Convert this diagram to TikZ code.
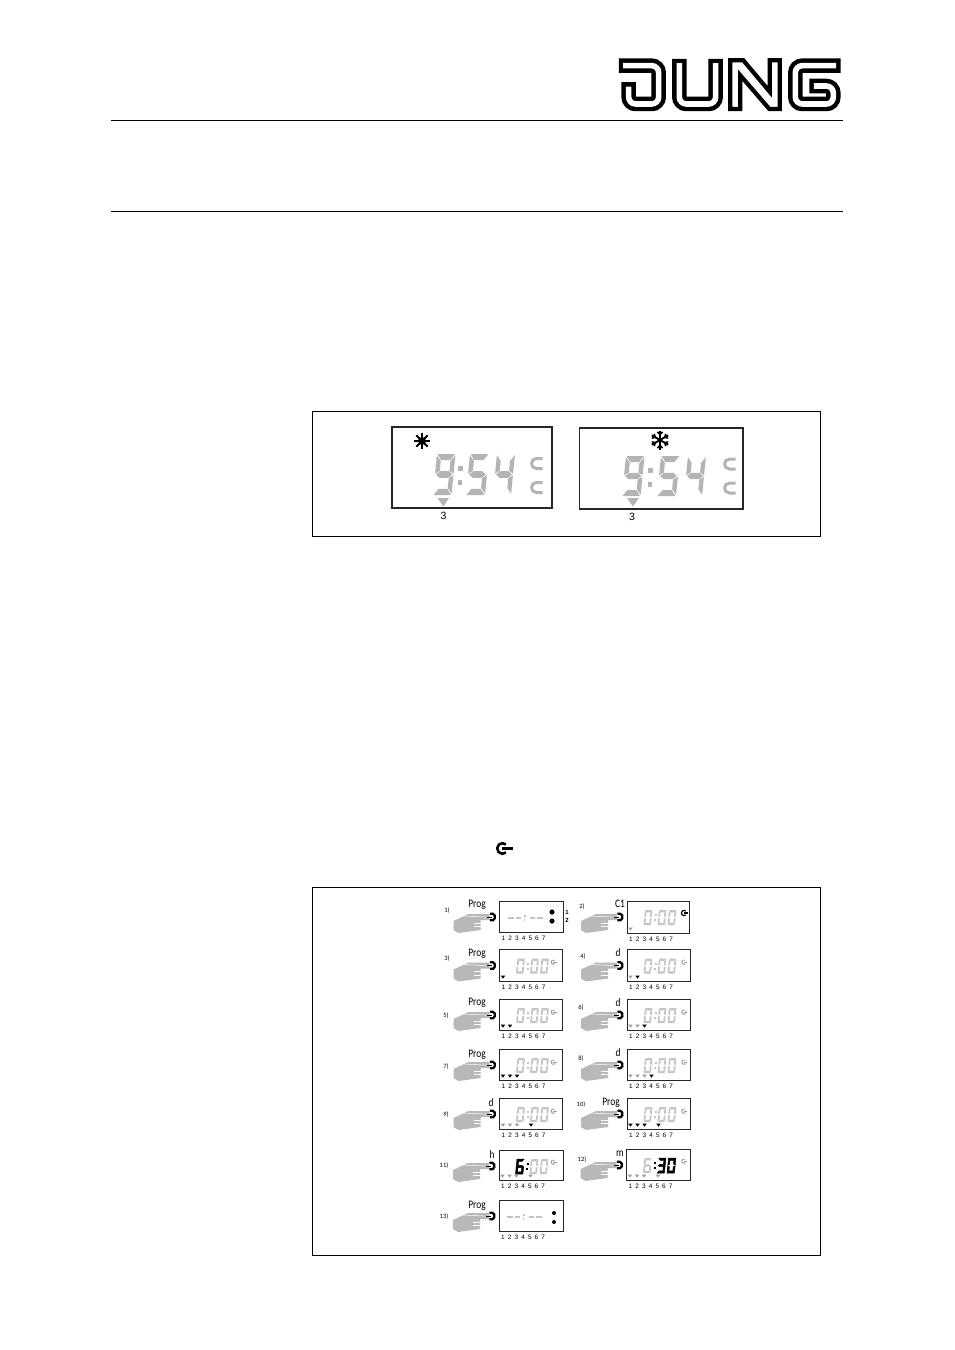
\documentclass[tikz,border=0pt]{standalone}
\usepackage{fontspec}
\usepackage{graphicx}
\setmainfont{Liberation Sans}
\newfontfamily\condf{Carlito}
\definecolor{lcdbigc}{HTML}{B4B4B4}
\definecolor{lcdsmc}{HTML}{C4C4C4}
\definecolor{handc}{HTML}{B8B8B8}
\newcommand\nar[1]{\scalebox{.82}[1]{#1}}
\tikzset{
  rule/.style={draw=black,line width=.9pt},
  frameb/.style={draw=black,line width=.8pt},
  lcdbox/.style={draw=black!85,line width=.9pt},
  lcdbig/.style={fill=lcdbigc},
  lcdlight/.style={fill=lcdsmc},
  lcdbold/.style={fill=black,draw=black,line width=.5pt},
  steplab/.style={font=\condf\fontsize{11.5}{11.5}\selectfont,inner sep=0pt},
  numlab/.style={font=\condf\fontsize{6.5}{7}\selectfont,inner sep=0pt},
  daylab/.style={font=\fontsize{6.4}{7}\selectfont,inner sep=0pt},
  bigtxt/.style={font=\fontsize{10.5}{11}\selectfont,inner sep=0pt},
  logo/.style={line cap=rect,miter limit=10,rounded corners=7pt}
}
% seven segment pieces in the unit cell
\newcommand\dsa{\path[segc] (.03,0)--(.97,0)--(.74,.15)--(.26,.15)--cycle;}
\newcommand\dsd{\path[segc] (.03,1)--(.97,1)--(.74,.85)--(.26,.85)--cycle;}
\newcommand\dsg{\path[segc] (.06,.5)--(.26,.42)--(.74,.42)--(.94,.5)--(.74,.58)--(.26,.58)--cycle;}
\newcommand\dsf{\path[segc] (0,.03)--(.24,.17)--(.24,.41)--(0,.48)--cycle;}
\newcommand\dsb{\path[segc] (1,.03)--(.76,.17)--(.76,.41)--(1,.48)--cycle;}
\newcommand\dse{\path[segc] (0,.52)--(.24,.59)--(.24,.83)--(0,.97)--cycle;}
\newcommand\dsc{\path[segc] (1,.52)--(.76,.59)--(.76,.83)--(1,.97)--cycle;}
% x, y, w, h, skew, style, segments
\newcommand\ldigit[7]{\begin{scope}[shift={(#1,#2)},x={(#3pt,0pt)},y={(-#5pt,-#4pt)},segc/.style={#6}]
  \foreach \q in #7 {\csname ds\q\endcsname}
\end{scope}}
\def\dzero{a,b,c,d,e,f}
\def\dthree{a,b,c,d,g}
\def\dfour{b,c,f,g}
\def\dfive{a,c,d,f,g}
\def\dsix{a,c,d,e,f,g}
\def\dnine{a,b,c,d,f,g}
\newcommand\sdig[4]{\ldigit{#1}{#2}{7.4}{15}{1.5}{#3}{#4}}
\newcommand\scol[3]{\fill[#3] (#1+.3,#2+4) rectangle +(2,2); \fill[#3] (#1-.4,#2+9) rectangle +(2,2);}
% box x, top, d1 style, d1 segs, colon style, d2 d3 style, d2 segs, d3 segs
\newcommand\stime[8]{
  \sdig{#1+18}{#2+9}{#3}{#4}
  \scol{#1+27.5}{#2+9}{#5}
  \sdig{#1+32}{#2+9}{#6}{#7}
  \sdig{#1+42}{#2+9}{#6}{#8}}
\newcommand\gsym[6]{% x,y,r,lw,colour,bar
  \draw[#5,line width=#4pt] ([shift={(50:#3)}]#1,#2) arc (50:310:#3);
  \draw[#5,line width=#4pt] (#1-.1*#3,#2) -- (#1+#6,#2);}
\newcommand\bigc[2]{\draw[lcdbigc,line width=3pt] (#1+6,#2-5) -- (#1,#2-5) arc (270:90:5) -- (#1+6,#2+5);}
\newcommand\dayrow[3]{\foreach \d in {1,...,7}{\pgfmathsetmacro\dpx{#1+4+(\d-1)*6.7}\node[daylab] (day#3\d) at (\dpx,#2+6) {\d};}}
\newcommand\tridn[3]{\fill[#3] (#1-2.3,#2-1.5) -- (#1+2.3,#2-1.5) -- (#1,#2+1.7) -- cycle;}
% box x, bottom, black list, grey list
\newcommand\tris[4]{
  \foreach \d in {#3}{\pgfmathsetmacro\tpx{#1+3.5+(\d-1)*7}\tridn{\tpx}{#2-4}{black}}
  \foreach \d in {#4}{\pgfmathsetmacro\tpx{#1+3.5+(\d-1)*7}\tridn{\tpx}{#2-4}{black!38}}}
\newcommand\handk[2]{
  \fill[handc] (#1-38,#2+4)--(#1-23,#2-3)--(#1-2,#2-3)--(#1-2,#2+3)--(#1-11,#2+3)--(#1-11,#2+13)--(#1-33,#2+16)--(#1-38,#2+13)--cycle;
  \draw[white,line width=.8pt] (#1-18,#2+6)--(#1-10,#2+6) (#1-18,#2+9.5)--(#1-10,#2+9.5);
  \draw[white,line width=.5pt] (#1-28,#2-1)--(#1-3,#2+.2);
  \draw[black,line width=2.2pt] ([shift={(-115:3.6)}]#1,#2) arc (-115:115:3.6);
  \draw[black,line width=.8pt] (#1-5,#2)--(#1,#2);}
% id, box x, top, bottom, width
\newcommand\panelbox[5]{
  \draw[lcdbox] (#2,#3) rectangle (#2+#5,#4);
  \handk{#2-8}{#3+16}
  \dayrow{#2}{#4}{#1}}
\newcommand\sdash[3]{% x, y, colour
  \foreach \o in {0,7.5,21.5,29}{\fill[#3] (#1+\o,#2-.6) rectangle +(5.5,1.2);}
  \fill[#3] (#1+16,#2-3) rectangle +(1.6,1.6);
  \fill[#3] (#1+15.5,#2+1.2) rectangle +(1.6,1.6);}
\begin{document}
\begin{tikzpicture}[x=1pt,y=-1pt]
\useasboundingbox (0,0) rectangle (954,1350);
\fill[white] (0,0) rectangle (954,1350);
% logo
\begin{scope}[shift={(600,40)},x=.3333pt,y=-.3333pt]
 \foreach \w/\c in {14.5/black,5.6/white}{
  \draw[logo,line width=\w pt,\c] (78,77)--(176,77)--(176,192)--(86,192)--(86,148);
  \draw[logo,line width=\w pt,\c] (238,78)--(238,192)--(347,192)--(347,78);
  \draw[logo,line width=\w pt,\c] (700,77)--(586,77)--(586,192)--(700,192)--(700,138)--(650,138);
 }
 \draw[black,line width=4.2pt,fill=white,miter limit=10] (391,61)--(430,61)--(509,155)--(509,61)--(539,61)--(539,207)--(508,207)--(421,106)--(421,207)--(391,207)--cycle;
\end{scope}
% rules
\draw[rule] (111,120)--(843,120);
\draw[rule] (111,211)--(843,211);
% frame 1
\draw[frameb] (312.5,411.5) rectangle (820.5,536.5);
\draw[lcdbox,line width=1.1pt] (392,427) rectangle (552,508);
\draw[lcdbox,line width=1.1pt] (579.5,428) rectangle (743,509);
% sun
\foreach \a in {0,45,...,315}{\draw[black,line width=1.9pt] (422,441) -- ++(\a:8);}
\fill[black] (422,441) circle (4);
% snowflake
\begin{scope}[shift={(660,440)}]
 \foreach \a in {30,90,...,330}{
  \draw[black,line width=1.9pt] (0,0) -- (\a:9.5);
  \draw[black,line width=1.5pt] (\a:5.5) -- ++(\a+45:3.6) (\a:5.5) -- ++(\a-45:3.6);
 }
\end{scope}
% big digits
\ldigit{437}{454}{18.5}{41}{4}{lcdbig}{\dnine}
\fill[lcdbig] (458,466) rectangle +(4.5,4.5);
\fill[lcdbig] (457.5,480) rectangle +(4.5,4.5);
\ldigit{470}{454}{19}{41}{4}{lcdbig}{\dfive}
\ldigit{497}{454}{18}{41}{4}{lcdbig}{\dfour}
\ldigit{626}{456}{18.5}{40}{4}{lcdbig}{\dnine}
\fill[lcdbig] (648,468) rectangle +(4.5,4.5);
\fill[lcdbig] (647.5,482) rectangle +(4.5,4.5);
\ldigit{661}{456}{19}{40}{4}{lcdbig}{\dfive}
\ldigit{688}{456}{18}{40}{4}{lcdbig}{\dfour}
\bigc{536.5}{463.5}
\bigc{536.5}{487.5}
\bigc{729.5}{464}
\bigc{729.5}{488}
\fill[lcdbigc] (437.5,498)--(449,498)--(443.3,506.5)--cycle;
\fill[lcdbigc] (627,498)--(639,498)--(633,506.5)--cycle;
\node[bigtxt] (three1) at (443.5,516) {3};
\node[bigtxt] (three2) at (632,517) {3};
% inline symbol
\gsym{502.5}{848.5}{5.3}{2.6}{black}{10.5}
% frame 2
\draw[frameb] (312.5,887.5) rectangle (820.5,1255.5);
% panels
\panelbox{a}{499.5}{901}{932}{64}
\panelbox{b}{627}{901}{933}{62}
\panelbox{c}{499.5}{949.5}{981}{63}
\panelbox{d}{627}{949.5}{981}{63}
\panelbox{e}{499.5}{999}{1030}{63}
\panelbox{f}{627}{999}{1030}{63}
\panelbox{g}{499.5}{1049}{1080}{63}
\panelbox{h}{627}{1049}{1080}{63}
\panelbox{i}{499.5}{1098}{1129}{63}
\panelbox{j}{627}{1098}{1129}{63}
\panelbox{k}{499}{1150}{1180}{64}
\panelbox{l}{626.5}{1149}{1180}{64}
\panelbox{m}{499}{1200}{1231}{64}
% top labels
\node[steplab] (la) at (477,905) {\nar{Prog}};
\node[steplab] (lb) at (620,904) {\nar{C1}};
\node[steplab] (lc) at (477,954) {\nar{Prog}};
\node[steplab] (ld) at (618,953) {\nar{d}};
\node[steplab] (le) at (477,1003) {\nar{Prog}};
\node[steplab] (lf) at (618,1003) {\nar{d}};
\node[steplab] (lg) at (477,1055) {\nar{Prog}};
\node[steplab] (lh) at (618,1053) {\nar{d}};
\node[steplab] (li) at (491,1103) {\nar{d}};
\node[steplab] (lj) at (611,1103) {\nar{Prog}};
\node[steplab] (lk) at (492,1154) {\nar{h}};
\node[steplab] (ll) at (620,1154) {\nar{m}};
\node[steplab] (lm) at (477,1206) {\nar{Prog}};
% step numbers
\node[numlab] (na) at (447,911) {1)};
\node[numlab] (nb) at (582,907) {2)};
\node[numlab] (nc) at (447,959) {3)};
\node[numlab] (nd) at (583,957) {4)};
\node[numlab] (ne) at (446,1016) {5)};
\node[numlab] (nf) at (581,1008) {6)};
\node[numlab] (ng) at (446,1067) {7)};
\node[numlab] (nh) at (581,1059) {8)};
\node[numlab] (ni) at (446,1115) {9)};
\node[numlab] (nj) at (581,1105) {10)};
\node[numlab] (nk) at (444,1166) {11)};
\node[numlab] (nl) at (582,1160) {12)};
\node[numlab] (nm) at (444,1217) {13)};
% panel 1
\sdash{508}{918}{lcdsmc}
\fill[black] (552,912) circle (2.6) (552,921) circle (2.6);
\node[font=\fontsize{6}{6}\selectfont\bfseries,inner sep=0pt] (one) at (567,912) {1};
\node[font=\fontsize{6}{6}\selectfont\bfseries,inner sep=0pt] (two) at (567,920) {2};
% panel 13
\sdash{507}{1217}{lcdsmc}
\fill[black] (554,1213) circle (2) (554,1222) circle (2);
% times
\stime{627}{901}{lcdlight}{\dzero}{lcdlight}{lcdlight}{\dzero}{\dzero}
\stime{499.5}{949.5}{lcdlight}{\dzero}{lcdlight}{lcdlight}{\dzero}{\dzero}
\stime{627}{949.5}{lcdlight}{\dzero}{lcdlight}{lcdlight}{\dzero}{\dzero}
\stime{499.5}{999}{lcdlight}{\dzero}{lcdlight}{lcdlight}{\dzero}{\dzero}
\stime{627}{999}{lcdlight}{\dzero}{lcdlight}{lcdlight}{\dzero}{\dzero}
\stime{499.5}{1049}{lcdlight}{\dzero}{lcdlight}{lcdlight}{\dzero}{\dzero}
\stime{627}{1049}{lcdlight}{\dzero}{lcdlight}{lcdlight}{\dzero}{\dzero}
\stime{499.5}{1098}{lcdlight}{\dzero}{lcdlight}{lcdlight}{\dzero}{\dzero}
\stime{627}{1098}{lcdlight}{\dzero}{lcdlight}{lcdlight}{\dzero}{\dzero}
\stime{499}{1150}{lcdbold}{\dsix}{black}{lcdlight}{\dzero}{\dzero}
\stime{626.5}{1149}{lcdlight}{\dsix}{black}{lcdbold}{\dthree}{\dzero}
% power symbols
\gsym{684}{913}{2.6}{1.2}{black}{3.6}
\foreach \gx/\gy in {553.5/962,684/962,553.5/1012,684/1012,553.5/1062,684/1062,553.5/1111,684/1111,553.5/1162,684/1161}{
  \gsym{\gx}{\gy}{2.3}{.9}{black!40}{3.2}
}
% day markers
\tris{627}{933}{}{1}
\tris{499.5}{981}{1}{}
\tris{627}{981}{2}{1}
\tris{499.5}{1030}{1,2}{}
\tris{627}{1030}{3}{1,2}
\tris{499.5}{1080}{1,2,3}{}
\tris{627}{1080}{4}{1,2,3}
\tris{499.5}{1129}{5}{1,2,3}
\tris{627}{1129}{1,2,3,5}{}
\tris{499}{1180}{}{1,2,3,5}
\tris{626.5}{1180}{}{1,2,3,5}
\end{tikzpicture}
\end{document}
